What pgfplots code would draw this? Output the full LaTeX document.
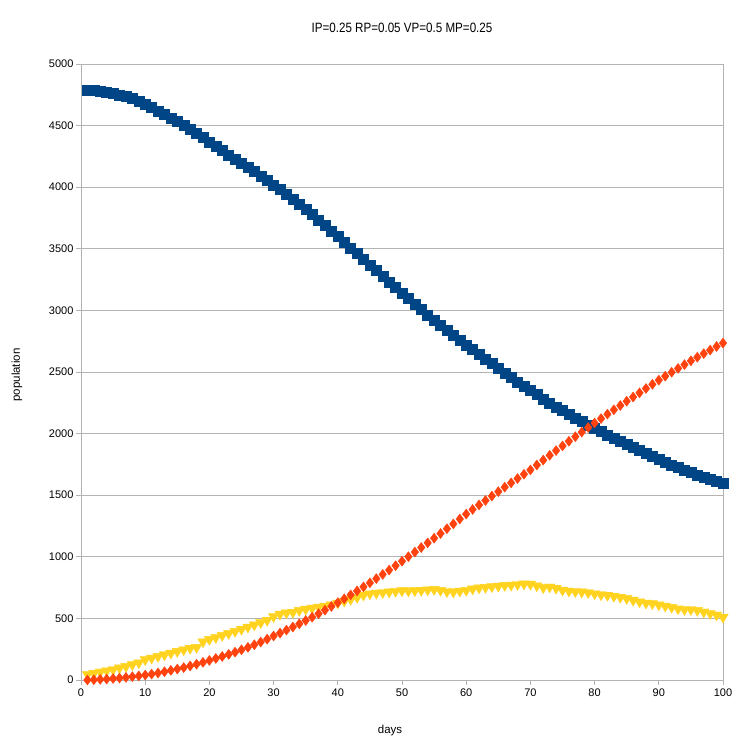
\documentclass[border=0pt]{standalone}
\usepackage{pgfplots}
\pgfplotsset{compat=1.18}
\usepackage{pgfplotstable}
\usepackage{fontspec}
\setmainfont{Liberation Sans}
\newfontfamily\titlefont[FakeStretch=0.86]{Liberation Sans}
\definecolor{cS}{HTML}{004586}
\definecolor{cI}{HTML}{FFD320}
\definecolor{cR}{HTML}{FF420E}
\definecolor{gridc}{HTML}{B3B3B3}
\pgfplotstableread{
day S I R
1 4790 45 0
2 4785 55 2
3 4778 65 5
4 4770 75 8
5 4760 85 12
6 4748 98 16
7 4735 110 21
8 4720 125 27
9 4700 140 33
10 4672 165 40
11 4646 178 48
12 4619 192 57
13 4591 205 67
14 4562 218 78
15 4532 232 89
16 4501 245 101
17 4469 258 114
18 4436 265 128
19 4403 310 143
20 4367 330 159
21 4331 345 175
22 4297 362 191
23 4263 378 208
24 4229 395 226
25 4195 412 245
26 4161 430 265
27 4126 448 286
28 4091 466 308
29 4056 485 332
30 4020 515 357
31 3982 535 381
32 3943 545 405
33 3903 550 430
34 3862 565 456
35 3820 575 483
36 3777 583 510
37 3733 592 538
38 3689 600 567
39 3645 610 597
40 3600 625 628
41 3554 640 659
42 3508 655 691
43 3462 670 723
44 3416 690 756
45 3370 700 789
46 3324 705 823
47 3278 710 857
48 3232 715 892
49 3186 720 928
50 3140 725 964
51 3095 723 1001
52 3050 725 1038
53 3006 728 1075
54 2962 732 1113
55 2919 735 1151
56 2877 728 1189
57 2836 718 1228
58 2796 715 1267
59 2758 722 1307
60 2720 728 1347
61 2681 740 1384
62 2643 748 1421
63 2605 752 1457
64 2568 758 1493
65 2531 762 1529
66 2494 768 1565
67 2458 770 1600
68 2421 775 1635
69 2385 780 1670
70 2350 778 1705
71 2316 765 1745
72 2282 750 1785
73 2249 755 1824
74 2217 745 1862
75 2186 730 1900
76 2156 722 1938
77 2127 718 1975
78 2099 715 2012
79 2072 710 2049
80 2045 700 2086
81 2018 692 2122
82 1991 688 2158
83 1965 680 2193
84 1939 672 2228
85 1913 662 2263
86 1888 648 2297
87 1863 635 2331
88 1838 625 2366
89 1814 620 2400
90 1790 610 2434
91 1768 600 2466
92 1746 590 2498
93 1725 578 2529
94 1704 572 2560
95 1684 572 2591
96 1664 565 2620
97 1645 552 2649
98 1627 540 2678
99 1610 528 2707
100 1597 510 2735
}\data
\begin{document}
\begin{tikzpicture}[x=1pt,y=1pt]
\path[use as bounding box] (0,0) rectangle (749,747);
\begin{axis}[
  at={(81pt,67pt)}, anchor=south west,
  scale only axis, width=642pt, height=616pt,
  xmin=0, xmax=100, ymin=0, ymax=5000,
  xtick={0,10,...,100}, ytick={0,500,...,5000},
  ymajorgrids, grid style={gridc, line width=0.8pt},
  axis line style={gridc, line width=0.8pt},
  tick style={gridc, line width=0.8pt},
  tick align=outside, major tick length=5pt,
  xtick pos=bottom, ytick pos=left,
  /pgf/number format/assume math mode=true,
  /pgf/number format/1000 sep={},
  tick label style={font=\fontsize{11}{12}\selectfont},
  yticklabel style={xshift=1pt},
  clip=false,
]
\addplot[only marks, mark=square*, mark size=5pt, color=cS] table[x=day,y=S]{\data};
\addplot[only marks, mark=triangle*, mark size=6pt, mark options={rotate=180}, color=cI] table[x=day,y=I]{\data};
\addplot[only marks, mark=diamond*, mark size=5pt, color=cR] table[x=day,y=R]{\data};
\end{axis}
\node[font=\titlefont\fontsize{13.5}{15}\selectfont] at (402,719) {IP=0.25 RP=0.05 VP=0.5 MP=0.25};
\node[font=\fontsize{11.5}{13}\selectfont] at (390,16) {days};
\node[font=\fontsize{11.5}{13}\selectfont, rotate=90] at (17,372) {population};
\end{tikzpicture}
\end{document}
